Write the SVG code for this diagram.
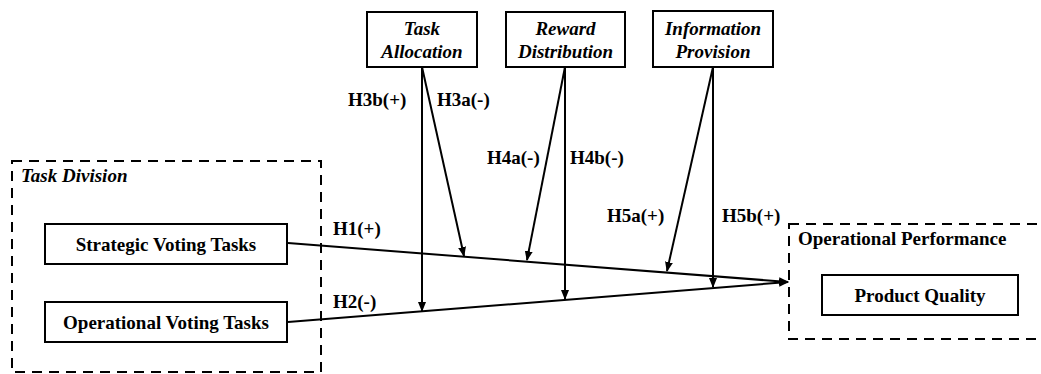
<svg xmlns="http://www.w3.org/2000/svg" width="1041" height="374" viewBox="0 0 1041 374">
<style>
.box{fill:#fff;stroke:#000;stroke-width:2}
.dash{fill:none;stroke:#000;stroke-width:2;stroke-dasharray:10 7}
.t{font-family:"Liberation Serif","Times New Roman",serif;font-weight:bold;font-size:19px;fill:#000}
.i{font-style:italic}
.c{text-anchor:middle}
.ln{fill:none;stroke:#000;stroke-width:2;marker-end:url(#ah)}
</style>
<defs>
<marker id="ah" markerWidth="10" markerHeight="8" refX="9" refY="4" orient="auto" markerUnits="userSpaceOnUse">
<path d="M0,0 L10,4 L0,8 Z" fill="#000"/>
</marker>
</defs>
<rect width="1041" height="374" fill="#fff"/>
<g id="task-division">
<rect class="dash" x="12" y="161" width="309" height="211"/>
<text class="t i" x="21" y="182">Task Division</text>
</g>
<g id="operational-performance">
<rect class="dash" x="789" y="224" width="270" height="115"/>
<text class="t" x="798" y="245">Operational Performance</text>
</g>
<g id="connectors">
<line class="ln" x1="288" y1="243" x2="788" y2="282"/>
<line class="ln" x1="288" y1="322" x2="788" y2="282"/>
<line class="ln" x1="422" y1="67" x2="422" y2="311"/>
<line class="ln" x1="422" y1="67" x2="464" y2="256"/>
<line class="ln" x1="565" y1="67" x2="527" y2="260"/>
<line class="ln" x1="565" y1="67" x2="565" y2="299"/>
<line class="ln" x1="713" y1="67" x2="667" y2="271"/>
<line class="ln" x1="713" y1="67" x2="713" y2="287"/>
<text class="t" x="348" y="106">H3b(+)</text>
<text class="t" x="437" y="106">H3a(-)</text>
<text class="t" x="487" y="164">H4a(-)</text>
<text class="t" x="570" y="164">H4b(-)</text>
<text class="t" x="607" y="222">H5a(+)</text>
<text class="t" x="722" y="222">H5b(+)</text>
<text class="t" x="333" y="235">H1(+)</text>
<text class="t" x="333" y="308">H2(-)</text>
</g>
<g id="strategic-voting-tasks">
<rect class="box" x="45" y="224" width="242" height="40"/>
<text class="t c" x="166" y="251">Strategic Voting Tasks</text>
</g>
<g id="operational-voting-tasks">
<rect class="box" x="45" y="302" width="242" height="40"/>
<text class="t c" x="166" y="329">Operational Voting Tasks</text>
</g>
<g id="product-quality">
<rect class="box" x="822" y="275" width="196" height="40"/>
<text class="t c" x="920" y="302">Product Quality</text>
</g>
<g id="task-allocation">
<rect class="box" x="367" y="12" width="110" height="55"/>
<text class="t i c" x="422" y="35">Task</text>
<text class="t i c" x="422" y="58">Allocation</text>
</g>
<g id="reward-distribution">
<rect class="box" x="506" y="12" width="119" height="55"/>
<text class="t i c" x="565.5" y="35">Reward</text>
<text class="t i c" x="565.5" y="58">Distribution</text>
</g>
<g id="information-provision">
<rect class="box" x="653" y="11" width="120" height="56"/>
<text class="t i c" x="713" y="35">Information</text>
<text class="t i c" x="713" y="58">Provision</text>
</g>
</svg>
